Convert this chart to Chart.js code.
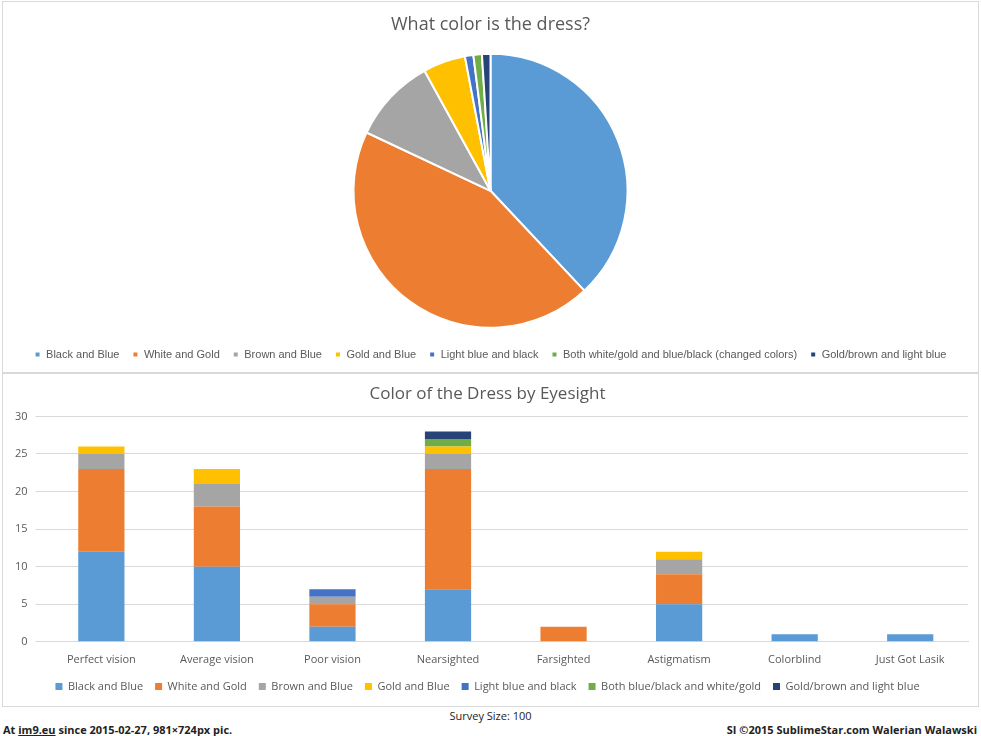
<!DOCTYPE html>
<html><head><meta charset="utf-8">
<script src="https://cdn.jsdelivr.net/npm/chart.js@4"></script>
<style>
body{margin:0;width:981px;height:736px;background:#fff;font-family:"Open Sans",sans-serif;position:relative;overflow:hidden}
.panel{position:absolute;left:2px;width:975px;border:1px solid #d9d9d9;background:#fff}
#p1{top:1px;height:370px}
#p2{top:373px;height:332px}
.ft{position:absolute;font-size:11px;color:#222}
</style></head><body>
<div class="panel" id="p1"><canvas id="pie"></canvas></div>
<div class="panel" id="p2"><canvas id="bar"></canvas></div>
<div class="ft" style="left:0;width:981px;text-align:center;top:708px">Survey Size: 100</div>
<div class="ft" style="left:3px;top:722px;font-weight:bold">At <u>im9.eu</u> since 2015-02-27, 981×724px pic.</div>
<div class="ft" style="right:4px;top:722px;font-weight:bold">SI ©2015 SublimeStar.com Walerian Walawski</div>
<script>
const colors = ['#5B9BD5', '#ED7D31', '#A5A5A5', '#FFC000', '#4472C4', '#70AD47', '#264478'];
const pieLabels = ['Black and Blue', 'White and Gold', 'Brown and Blue', 'Gold and Blue', 'Light blue and black', 'Both white/gold and blue/black (changed colors)', 'Gold/brown and light blue'];
const pieValues = [38, 44, 10, 5, 1, 1, 1];

const groups = ['Perfect vision', 'Average vision', 'Poor vision', 'Nearsighted', 'Farsighted', 'Astigmatism', 'Colorblind', 'Just Got Lasik'];
const seriesNames = ['Black and Blue', 'White and Gold', 'Brown and Blue', 'Gold and Blue', 'Light blue and black', 'Both blue/black and white/gold', 'Gold/brown and light blue'];
const blackBlue   = [12, 10, 2, 7, 0, 5, 1, 1];
const whiteGold   = [11, 8, 3, 16, 2, 4, 0, 0];
const brownBlue   = [2, 3, 1, 2, 0, 2, 0, 0];
const goldBlue    = [1, 2, 0, 1, 0, 1, 0, 0];
const lightBlack  = [0, 0, 1, 0, 0, 0, 0, 0];
const bothColors  = [0, 0, 0, 1, 0, 0, 0, 0];
const goldBrownLb = [0, 0, 0, 1, 0, 0, 0, 0];
const yTicks = [0, 5, 10, 15, 20, 25, 30];

Chart.defaults.font.family = '"Open Sans", sans-serif';
Chart.defaults.color = '#595959';
Chart.defaults.animation = false;

const legendOpts = { position: 'bottom', labels: { boxWidth: 7, boxHeight: 7, font: { size: 11 }, padding: 12 } };

new Chart(document.getElementById('pie'), {
    type: 'pie',
    data: { labels: pieLabels, datasets: [{ data: pieValues, backgroundColor: colors, borderColor: '#fff', borderWidth: 2, radius: '95%' }] },
    options: {
        responsive: true, maintainAspectRatio: false,
        layout: { padding: { top: 0, bottom: 2 } },
        plugins: {
            title: { display: true, text: 'What color is the dress?', font: { size: 18, weight: 'normal' }, color: '#595959', padding: { top: 12, bottom: 10 } },
            legend: { position: 'bottom', labels: { boxWidth: 6, boxHeight: 6, font: { size: 11, family: '"Liberation Sans", sans-serif' }, padding: 13 } },
            tooltip: { enabled: false }
        }
    }
});

const seriesData = [blackBlue, whiteGold, brownBlue, goldBlue, lightBlack, bothColors, goldBrownLb];
new Chart(document.getElementById('bar'), {
    type: 'bar',
    data: {
        labels: groups,
        datasets: seriesNames.map((n, i) => ({ label: n, data: seriesData[i], backgroundColor: colors[i], barPercentage: 0.4, categoryPercentage: 1 }))
    },
    options: {
        responsive: true, maintainAspectRatio: false,
        layout: { padding: { left: 4, right: 10, bottom: 4 } },
        plugins: {
            title: { display: true, text: 'Color of the Dress by Eyesight', font: { size: 17, weight: 'normal' }, color: '#595959', padding: { top: 10, bottom: 12 } },
            legend: legendOpts,
            tooltip: { enabled: false }
        },
        scales: {
            x: { stacked: true, grid: { display: false }, border: { color: '#d9d9d9' }, ticks: { font: { size: 11 } } },
            y: { stacked: true, min: 0, max: 30, afterBuildTicks: a => { a.ticks = yTicks.map(v => ({ value: v })); },
                 grid: { color: '#d9d9d9' }, border: { display: false }, ticks: { font: { size: 11 }, padding: 8 } }
        }
    }
});
</script>
</body></html>
